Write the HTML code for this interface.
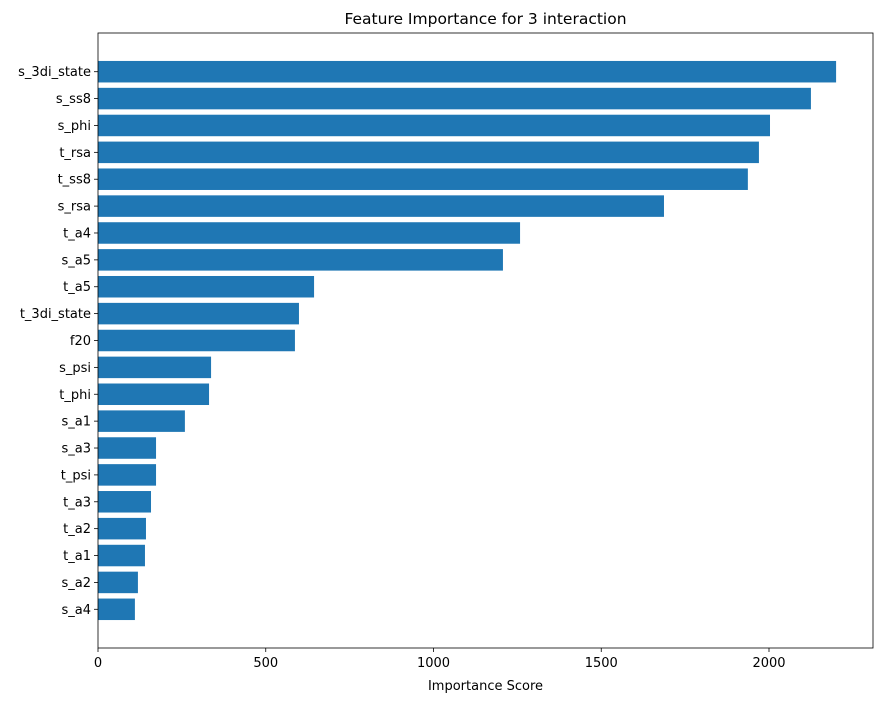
<!DOCTYPE html>
<html><head><meta charset="utf-8"><style>
body{margin:0;background:#fff;font-family:"Liberation Sans","DejaVu Sans",sans-serif;}
</style></head><body>
<svg id="chart" width="882" height="701" xmlns="http://www.w3.org/2000/svg" font-family="DejaVu Sans, Liberation Sans, sans-serif"></svg>
<script>
const features = ["s_a4","s_a2","t_a1","t_a2","t_a3","t_psi","s_a3","s_a1","t_phi","s_psi","f20","t_3di_state","t_a5","s_a5","t_a4","s_rsa","t_ss8","t_rsa","s_phi","s_ss8","s_3di_state"];
const scores = [110,119,140,143,158,173,173,259,331,337,587,599,644,1207,1258,1687,1937,1970,2003,2125,2200];
const xTicks = [0,500,1000,1500,2000];

const svg = document.getElementById('chart');
const NS = 'http://www.w3.org/2000/svg';
const L=98,R=873,T=33,B=648;
const xMax = Math.max(...scores)*1.05;
const yMin=-1.44, yMax=features.length-1+1.44;
const xs = v => L + v/xMax*(R-L);
const ys = i => B - (i-yMin)/(yMax-yMin)*(B-T);
const unit = (B-T)/(yMax-yMin);
function mk(tag, attrs, text){const e=document.createElementNS(NS,tag);for(const k in attrs)e.setAttribute(k,attrs[k]);if(text!==undefined)e.textContent=text;svg.appendChild(e);return e;}

features.forEach((f,i)=>{
  const r = mk('rect',{x:xs(0),y:ys(i)-0.4*unit,width:xs(scores[i])-xs(0),height:0.8*unit,fill:'#1f77b4'});
  
  
  const tk = mk('line',{x1:L-4,x2:L,y1:ys(i),y2:ys(i),stroke:'#000','stroke-width':0.8});
  
  
  const t = mk('text',{x:L-7,y:ys(i)+4.5,'text-anchor':'end','font-size':13,fill:'#000'},f);
  
  
});
xTicks.forEach(v=>{
  const tk = mk('line',{x1:xs(v),x2:xs(v),y1:B,y2:B+4,stroke:'#000','stroke-width':0.8});
  
  
  const t = mk('text',{x:xs(v),y:B+19,'text-anchor':'middle','font-size':13,fill:'#000'},String(v));
  
  
});
const frame = mk('rect',{x:L,y:T,width:R-L,height:B-T,fill:'none',stroke:'#000','stroke-width':0.8});


const title = mk('text',{x:(L+R)/2,y:24,'text-anchor':'middle','font-size':15.5,fill:'#000'},'Feature Importance for 3 interaction');


const xl = mk('text',{x:(L+R)/2,y:690,'text-anchor':'middle','font-size':13,fill:'#000'},'Importance Score');


</script>
</body></html>
